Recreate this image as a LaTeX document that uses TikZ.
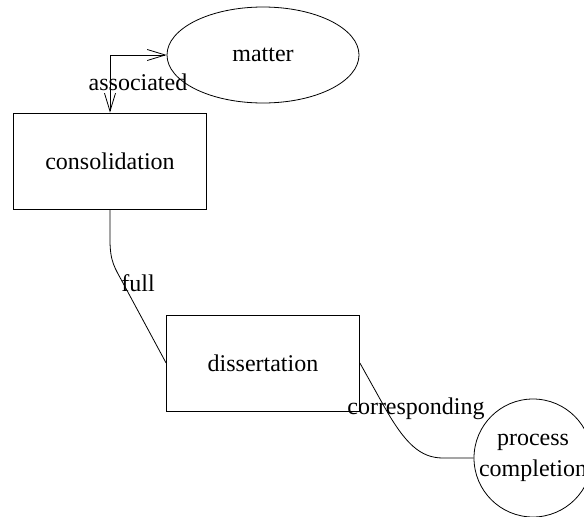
\documentclass[tikz,border=0pt]{standalone}
\usepackage{fontspec}
\setmainfont{Liberation Serif}
\usetikzlibrary{arrows.meta, shapes.geometric}

\begin{document}
\begin{tikzpicture}[x=1pt, y=-1pt, line width=0.8pt,
    font=\fontsize{24}{31}\selectfont,
    box/.style={draw, rectangle, minimum width=193pt, minimum height=96pt, inner sep=0pt},
    blob/.style={draw, ellipse, minimum width=192pt, minimum height=96pt, inner sep=0pt},
    ring/.style={draw, circle, minimum size=118pt, inner sep=0pt, align=center},
    barb/.style={{Straight Barb[length=18pt, width=11pt]}-{Straight Barb[length=18pt, width=11pt]}},
    tag/.style={inner sep=0pt}]
  \useasboundingbox (0,0) rectangle (584,517);
  \node[blob] (matter) at (263,55) {matter};
  \node[box] (cons) at (110,161) {consolidation};
  \node[box] (diss) at (263,363) {dissertation};
  \node[ring] (proc) at (533,458) {process\\completion};
  % connectors
  \draw[barb] (cons.north) |- (matter.west);
  \draw (cons.south) -- (110,240) .. controls (110,262) and (115,268) .. (123,283) -- (diss.west);
  \draw (diss.east) -- (385,408) .. controls (405,443) and (420,458) .. (443,458) -- (proc.west);
  % labels
  \node[tag] (assoc) at (138,82) {associated};
  \node[tag] (full) at (138,283) {full};
  \node[tag] (corr) at (416,409) {corresponding};
\end{tikzpicture}
\end{document}
